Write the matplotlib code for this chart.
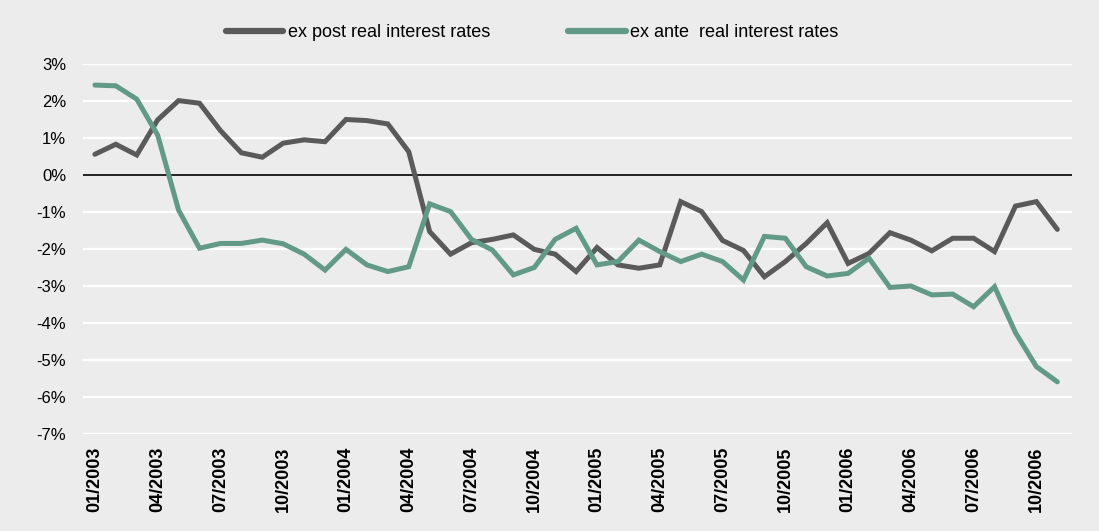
import matplotlib
matplotlib.use('Agg')
import matplotlib.pyplot as plt
import numpy as np

# monthly, 01/2003 .. 11/2006
months = [f"{m:02d}/{y}" for y in range(2003, 2007) for m in range(1, 13)][:47]

ex_post = [0.56, 0.83, 0.54, 1.49, 2.01, 1.94, 1.20, 0.60, 0.48, 0.86, 0.95, 0.90,
           1.50, 1.47, 1.38, 0.63, -1.53, -2.14, -1.83, -1.74, -1.62, -2.01, -2.14, -2.61,
           -1.96, -2.43, -2.52, -2.43, -0.72, -0.99, -1.77, -2.04, -2.75, -2.34, -1.85, -1.29,
           -2.39, -2.12, -1.56, -1.76, -2.05, -1.71, -1.71, -2.07, -0.84, -0.72, -1.47]

ex_ante = [2.43, 2.41, 2.05, 1.08, -0.95, -1.98, -1.85, -1.85, -1.76, -1.86, -2.14, -2.57,
           -2.01, -2.43, -2.61, -2.48, -0.78, -0.99, -1.74, -2.03, -2.70, -2.50, -1.74, -1.44,
           -2.43, -2.34, -1.76, -2.07, -2.34, -2.14, -2.34, -2.84, -1.66, -1.71, -2.48, -2.73,
           -2.66, -2.25, -3.04, -3.00, -3.24, -3.22, -3.56, -3.02, -4.26, -5.18, -5.59]

y_ticks = list(range(-7, 4))

bg = '#ececec'
fig = plt.figure(figsize=(10.99, 5.31), dpi=100, facecolor=bg)
ax = fig.add_axes([0.0755, 0.1827, 0.8999, 0.6968], facecolor=bg)

x = np.arange(len(months))
ax.plot(x, ex_post, color='#5a5a5a', lw=3.6, label='ex post real interest rates',
        solid_capstyle='round', solid_joinstyle='miter', zorder=3)
ax.plot(x, ex_ante, color='#629a87', lw=3.6, label='ex ante  real interest rates',
        solid_capstyle='round', solid_joinstyle='miter', zorder=3)

for v in y_ticks:
    if v != 0:
        ax.axhline(v, color='white', lw=1.6, zorder=1)
ax.axhline(0, color='black', lw=1.2, zorder=2)

ax.set_xlim(-0.57, 46.7)
ax.set_ylim(-7, 3)
ax.set_yticks(y_ticks)
ax.set_yticklabels([f"{v}%" for v in y_ticks], fontsize=12, family='Liberation Sans')
ax.set_xticks(x[::3])
ax.set_xticklabels(months[::3], rotation=90, fontsize=13, fontweight='bold',
                   family='Liberation Sans')
ax.tick_params(axis='both', length=0)
ax.tick_params(axis='y', pad=12)
ax.tick_params(axis='x', pad=9)
for s in ax.spines.values():
    s.set_visible(False)

leg = fig.legend(loc='center', bbox_to_anchor=(0.484, 0.938), ncol=2, frameon=False,
                 prop={'family': 'Liberation Sans', 'size': 13}, handlelength=3.2,
                 handletextpad=0.25, columnspacing=4.3)
for line in leg.get_lines():
    line.set_linewidth(4.5)

fig.savefig('out.png', dpi=100, facecolor=bg)
